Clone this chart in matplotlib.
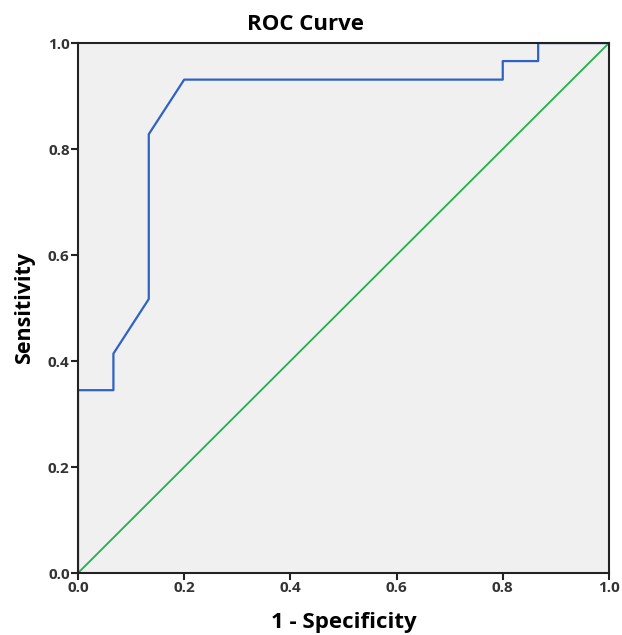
import matplotlib
matplotlib.use("Agg")
import matplotlib.pyplot as plt

# ROC points (1 - specificity, sensitivity)
fpr = [0.0, 0.0, 0.0667, 0.0667, 0.1333, 0.1333, 0.2, 0.8, 0.8, 0.8667, 0.8667, 1.0]
tpr = [0.0, 0.345, 0.345, 0.414, 0.517, 0.828, 0.931, 0.931, 0.966, 0.966, 1.0, 1.0]
ref = [0.0, 1.0]
ticks = [0.0, 0.2, 0.4, 0.6, 0.8, 1.0]

plt.rcParams['font.family'] = ['Open Sans', 'DejaVu Sans']

fig = plt.figure(figsize=(6.22, 6.35), dpi=100)
ax = fig.add_axes([0.1254, 0.0976, 0.8536, 0.8346])
ax.set_facecolor("#f0f0f0")

ax.plot(ref, ref, color="#22b04a", lw=1.3)
ax.plot(fpr, tpr, color="#2f62c4", lw=1.6)

ax.set_xlim(0, 1)
ax.set_ylim(0, 1)
ax.set_xticks(ticks)
ax.set_yticks(ticks)
ax.set_xticklabels([f"{t:.1f}" for t in ticks], fontweight="bold", fontsize=11, color="#333333")
ax.set_yticklabels([f"{t:.1f}" for t in ticks], fontweight="bold", fontsize=11, color="#333333")
ax.tick_params(length=5, width=1.5, color="#222222", pad=1)
for s in ax.spines.values():
    s.set_linewidth(1.5)
    s.set_color("#222222")

fig.text(0.491, 0.962, "ROC Curve", fontweight="bold", fontsize=16, ha="center", va="center")
ax.set_xlabel("1 - Specificity", fontweight="bold", fontsize=16, labelpad=12)
ax.set_ylabel("Sensitivity", fontweight="bold", fontsize=15.5, labelpad=9)

fig.savefig("out.png", dpi=100)
